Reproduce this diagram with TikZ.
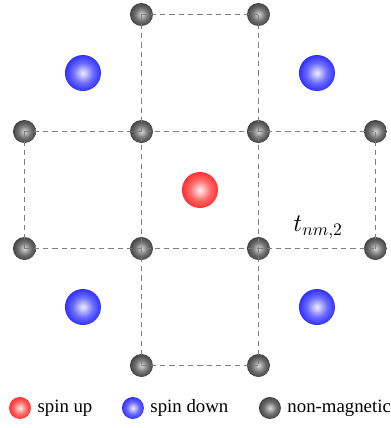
\documentclass[tikz,border=0pt]{standalone}
\usepackage{fontspec}
\setmainfont{Liberation Serif}
\usetikzlibrary{positioning}
\definecolor{bondgray}{HTML}{808080}
\definecolor{nmgray}{HTML}{1E1E1E}
\colorlet{atomcol}{red}
\colorlet{atomhi}{white}
\pgfdeclareradialshading[atomhi,atomcol]{sphere}{\pgfpoint{0bp}{0bp}}{%
  color(0bp)=(atomhi); color(14bp)=(atomhi!45!atomcol);
  color(34bp)=(atomcol); color(50bp)=(atomcol)}

\begin{document}
\begin{tikzpicture}[
    x=2.34cm, y=2.34cm,
    atom/.style 2 args={circle, inner sep=0pt,
                        /utils/exec={\colorlet{atomhi}{#1}\colorlet{atomcol}{#2}}, shading=sphere},
    nm/.style={atom={black!15!white}{nmgray}, minimum size=0.46cm},
    up/.style={atom={red!6!white}{red}, minimum size=0.72cm},
    down/.style={atom={blue!6!white}{blue}, minimum size=0.72cm},
    bond/.style={dashed, dash pattern=on 3pt off 2.3pt, line width=1pt, bondgray},
    lbl/.style={font=\fontsize{10.7}{12}\selectfont},
  ]
  \useasboundingbox (-1.709,-2.034) rectangle (1.632,1.624);

  % ── Magnetic sites ──
  \node[up] (mid) at (0,0) {};
  \node[down] (ul) at (-1,1) {};
  \node[down] (ur) at (1,1) {};
  \node[down] (ll) at (-1,-1) {};
  \node[down] (lr) at (1,-1) {};

  % ── Non-magnetic sites ──
  \node[nm] (t1) at (-0.5,1.5) {};
  \node[nm] (t2) at (0.5,1.5) {};
  \node[nm] (a1) at (-1.5,0.5) {};
  \node[nm] (a2) at (-0.5,0.5) {};
  \node[nm] (a3) at (0.5,0.5) {};
  \node[nm] (a4) at (1.5,0.5) {};
  \node[nm] (b1) at (-1.5,-0.5) {};
  \node[nm] (b2) at (-0.5,-0.5) {};
  \node[nm] (b3) at (0.5,-0.5) {};
  \node[nm] (b4) at (1.5,-0.5) {};
  \node[nm] (d1) at (-0.5,-1.5) {};
  \node[nm] (d2) at (0.5,-1.5) {};

  % ── Hoppings ──
  \draw[bond] (t1.center) -- (t2.center);
  \draw[bond] (a1.center) -- (a4.center);
  \draw[bond] (b1.center) -- (b4.center);
  \draw[bond] (d1.center) -- (d2.center);
  \draw[bond] (a1.center) -- (b1.center);
  \draw[bond] (a4.center) -- (b4.center);
  \draw[bond] (t1.center) -- (d1.center);
  \draw[bond] (t2.center) -- (d2.center);

  \node[font=\fontsize{14.4}{17}\selectfont] (hop) at (1.01,-0.32) {$t_{nm,2}$};

  % ── Legend ──
  \node[up, minimum size=0.44cm] (kup) at (-1.538,-1.863) {};
  \node[lbl, right=0pt of kup] (tup) {spin up};
  \node[down, minimum size=0.44cm] (kdown) at (-0.573,-1.863) {};
  \node[lbl, right=0pt of kdown] (tdown) {spin down};
  \node[nm, minimum size=0.44cm] (knm) at (0.598,-1.863) {};
  \node[lbl, right=0pt of knm] (tnm) {non-magnetic};

\end{tikzpicture}
\end{document}
